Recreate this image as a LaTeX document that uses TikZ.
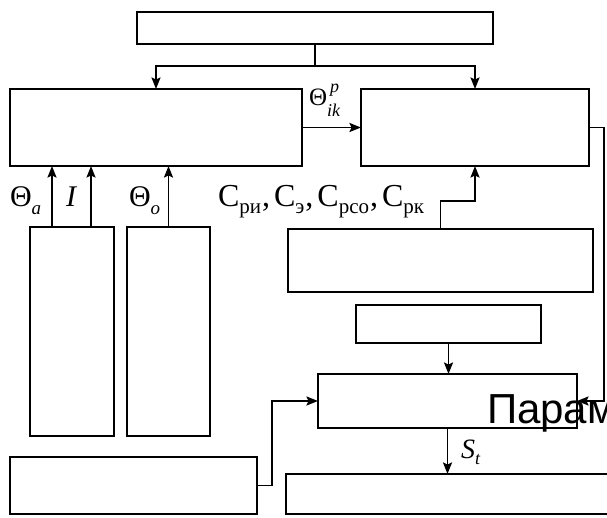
\documentclass[tikz,border=0pt]{standalone}
\usepackage{fontspec}
\setmainfont{Liberation Serif}
\newfontfamily\sansf{Liberation Sans}
\usetikzlibrary{arrows.meta}
\newcommand{\mysub}[3]{\raisebox{-#1}{\fontsize{#2}{#2}\selectfont #3}}
\begin{document}
\begin{tikzpicture}[x=1pt,y=-1pt,line width=1.9pt,
  box/.style={draw,rectangle,inner sep=0pt,outer sep=0pt},
  arr/.style={-{Stealth[length=11.5pt,width=9pt,inset=2pt]}},
  lab/.style={inner sep=0pt,outer sep=0pt,anchor=base west}]
\useasboundingbox (0,0) rectangle (607,518);
% boxes
\node[box,minimum width=356,minimum height=32] (top) at (315,28) {};
\node[box,minimum width=292,minimum height=77] (A) at (156,127.5) {};
\node[box,minimum width=228,minimum height=77] (B) at (475,127.5) {};
\node[box,minimum width=84,minimum height=209] (C) at (72,331.5) {};
\node[box,minimum width=83,minimum height=209] (D) at (168.5,331.5) {};
\node[box,minimum width=305,minimum height=63] (E) at (440.5,260.5) {};
\node[box,minimum width=185,minimum height=38] (F) at (448.5,324) {};
\node[box,minimum width=259,minimum height=54] (G) at (447.5,401) {};
\node[box,minimum width=247,minimum height=57] (H) at (133.5,485.5) {};
\node[box,minimum width=340,minimum height=40] (I) at (456,494) {};
% connectors
\draw (top.south) -- (top.south |- 0,66) coordinate (split);
\draw[arr] (split) -| (A.north);
\draw[arr] (split) -| (B.north);
\draw[arr] (A) -- (B);
\draw[arr] (C.north -| 52,0) -- (A.south -| 52,0);
\draw[arr] (C.north -| 91,0) -- (A.south -| 91,0);
\draw[arr] (D.north) -- (D.north |- A.south);
\draw[arr] (E.north) -- ++(0,-28) -| (B.south);
\draw[arr] (F.south) -- (F.south |- G.north);
\draw[arr] (G.south) -- (G.south |- I.north);
\draw[arr] (H.east) -- ++(15,0) |- (G.west);
\draw[arr] (B.east) -- ++(15,0) |- (G.east);
% labels
\node[lab,font=\fontsize{30}{32}\selectfont] (ta) at (10,207) {Θ\mysub{8pt}{19}{\itshape a}};
\node[lab,font=\fontsize{30}{32}\selectfont\itshape] (li) at (66,207) {I};
\node[lab,font=\fontsize{30}{32}\selectfont] (to) at (129,207) {Θ\mysub{8pt}{19}{\itshape o}};
\node[lab,font=\fontsize{32}{34}\selectfont] (cl) at (218,207) {С\mysub{7pt}{21}{ри}\kern1pt,\kern4ptС\mysub{7pt}{21}{э}\kern1pt,\kern4ptС\mysub{7pt}{21}{рсо}\kern1pt,\kern4ptС\mysub{7pt}{21}{рк}};
\node[lab,font=\fontsize{25}{27}\selectfont] (tp) at (309,106) {Θ\makebox[0pt][l]{\kern3pt\raisebox{13pt}{\fontsize{18}{18}\selectfont\itshape p}}\mysub{11pt}{18}{\itshape ik}};
\node[lab,font=\fontsize{28}{30}\selectfont\itshape] (st) at (461,458) {S\mysub{6pt}{18}{t}};
\node[lab,font=\sansf\fontsize{42}{42}\selectfont] (param) at (487,423) {Парам};
\end{tikzpicture}
\end{document}
